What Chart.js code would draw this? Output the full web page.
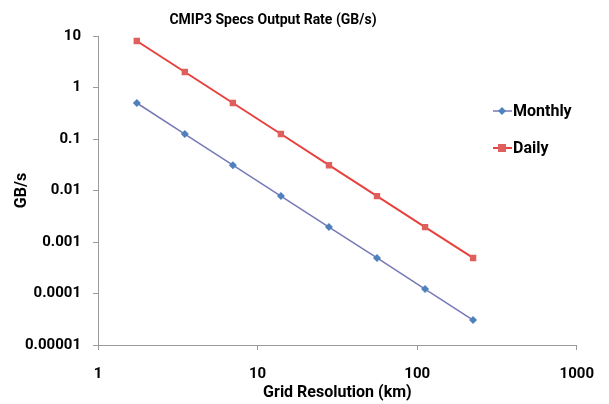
<!DOCTYPE html>
<html>
<head>
<meta charset="utf-8">
<script src="https://cdn.jsdelivr.net/npm/chart.js@4.4.1/dist/chart.umd.min.js"></script>
<style>
  html, body { margin: 0; padding: 0; background: #fff; }
  #wrap { width: 609px; height: 404px; }
</style>
</head>
<body>
<div id="wrap"><canvas id="outputChart"></canvas></div>
<script>
const resolutionKm = [1.75, 3.5, 7, 14, 28, 56, 112, 224];
const monthlyRate = [0.5, 0.125, 0.031, 0.0078, 0.00195, 0.00049, 0.000122, 0.0000305];
const dailyRate = [8, 2, 0.5, 0.125, 0.031, 0.0078, 0.00195, 0.00049];
const xTickValues = [1, 10, 100, 1000];
const xTickLabels = ["1", "10", "100", "1000"];
const yTickValues = [0.00001, 0.0001, 0.001, 0.01, 0.1, 1, 10];
const yTickLabels = ["0.00001", "0.0001", "0.001", "0.01", "0.1", "1", "10"];
const chartTitle = "CMIP3 Specs Output Rate (GB/s)";

const FONT = "Roboto, 'Open Sans', sans-serif";

function toPoints(ys) {
  return resolutionKm.map((x, i) => ({ x: x, y: ys[i] }));
}

// title sits a bit left of centre in the original, so draw it by hand
const offsetTitle = {
  id: "offsetTitle",
  afterDraw(chart) {
    const ctx = chart.ctx;
    ctx.save();
    ctx.fillStyle = "#000";
    ctx.font = "bold 14px " + FONT;
    ctx.textAlign = "center";
    ctx.textBaseline = "middle";
    ctx.fillText(chartTitle, 273, 20);
    ctx.restore();
  },
};

// legend drawn inside the plot area, like the original
const innerLegend = {
  id: "innerLegend",
  afterDraw(chart) {
    const ctx = chart.ctx;
    const rows = [111, 148];
    chart.data.datasets.forEach((ds, i) => {
      const y = rows[i];
      ctx.save();
      ctx.strokeStyle = ds.borderColor;
      ctx.lineWidth = ds.borderWidth;
      ctx.beginPath();
      ctx.moveTo(493, y);
      ctx.lineTo(512, y);
      ctx.stroke();
      ctx.fillStyle = ds.pointBackgroundColor;
      if (ds.pointStyle === "rect") {
        ctx.fillRect(498, y - 4, 8, 8);
      } else {
        ctx.beginPath();
        ctx.moveTo(502, y - 4);
        ctx.lineTo(506, y);
        ctx.lineTo(502, y + 4);
        ctx.lineTo(498, y);
        ctx.closePath();
        ctx.fill();
      }
      ctx.fillStyle = "#000";
      ctx.font = "bold 16px " + FONT;
      ctx.textAlign = "left";
      ctx.textBaseline = "middle";
      ctx.fillText(ds.label, 513, y + 1);
      ctx.restore();
    });
  },
};

document.addEventListener("DOMContentLoaded", function () {
  const ctx = document.getElementById("outputChart").getContext("2d");
  new Chart(ctx, {
    type: "line",
    data: {
      datasets: [
        {
          label: "Monthly",
          data: toPoints(monthlyRate),
          borderColor: "#7679B8",
          borderWidth: 1.5,
          pointStyle: "rectRot",
          pointRadius: 4,
          pointBackgroundColor: "#4F81BD",
          pointBorderColor: "#4F81BD",
          pointBorderWidth: 0,
        },
        {
          label: "Daily",
          data: toPoints(dailyRate),
          borderColor: "#E8423E",
          borderWidth: 2,
          pointStyle: "rect",
          pointRadius: 4.5,
          pointBackgroundColor: "#DE5F5C",
          pointBorderColor: "#DE5F5C",
          pointBorderWidth: 0,
        },
      ],
    },
    options: {
      responsive: true,
      maintainAspectRatio: false,
      animation: false,
      layout: { padding: { top: 36, right: 25, bottom: 0, left: 0 } },
      plugins: {
        legend: { display: false },
        tooltip: { enabled: false },
        title: { display: false },
      },
      scales: {
        x: {
          type: "logarithmic",
          min: 1,
          max: 1000,
          afterBuildTicks: (scale) => {
            scale.ticks = xTickValues.map((v) => ({ value: v }));
          },
          afterFit: (scale) => {
            scale.height = 59;
          },
          ticks: {
            autoSkip: false,
            maxRotation: 0,
            padding: 15,
            color: "#000",
            font: { family: FONT, size: 15, weight: "bold" },
            callback: (v, i) => xTickLabels[i],
          },
          grid: { drawOnChartArea: false, drawTicks: true, tickLength: 5, color: "#9a9a9a" },
          border: { color: "#9a9a9a", width: 1 },
          title: {
            display: true,
            text: "Grid Resolution (km)",
            color: "#000",
            font: { family: FONT, size: 16, weight: "bold" },
            padding: { top: 0, bottom: 1 },
          },
        },
        y: {
          type: "logarithmic",
          min: 0.00001,
          max: 10,
          afterBuildTicks: (scale) => {
            scale.ticks = yTickValues.map((v) => ({ value: v }));
          },
          afterFit: (scale) => {
            scale.width = 98;
          },
          ticks: {
            autoSkip: false,
            padding: 12,
            color: "#000",
            font: { family: FONT, size: 15, weight: "bold" },
            callback: (v, i) => yTickLabels[i],
          },
          grid: { drawOnChartArea: false, drawTicks: true, tickLength: 5, color: "#9a9a9a" },
          border: { color: "#9a9a9a", width: 1 },
          title: {
            display: true,
            text: "GB/s",
            color: "#000",
            font: { family: FONT, size: 16, weight: "bold" },
            padding: { top: 12, bottom: 0 },
          },
        },
      },
    },
    plugins: [innerLegend, offsetTitle],
  });
});
</script>
</body>
</html>
